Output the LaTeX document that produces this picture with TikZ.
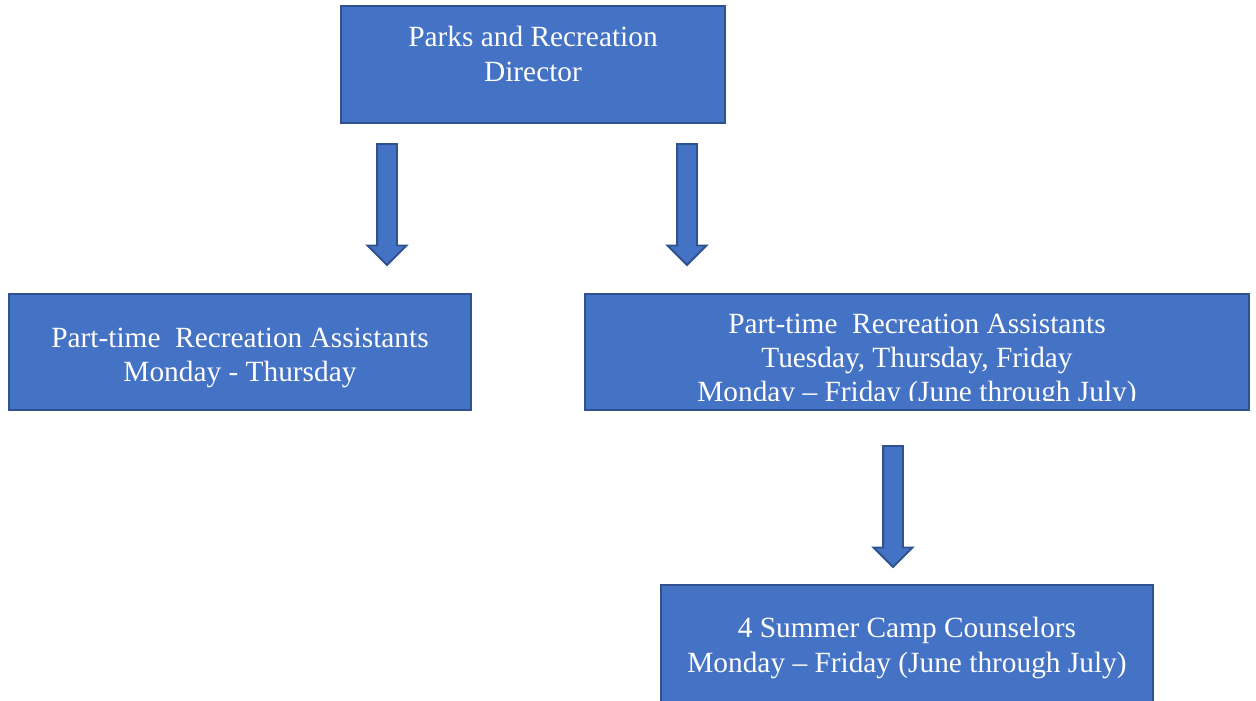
\documentclass[tikz,border=0pt]{standalone}
\usepackage{fontspec}
\setmainfont{Liberation Serif}
\definecolor{officeblue}{RGB}{68,114,196}
\definecolor{edgeblue}{RGB}{47,82,143}
\usetikzlibrary{shapes.arrows, positioning}

\begin{document}
\begin{tikzpicture}[x=0.02cm, y=-0.02cm,
    box/.style={rectangle, draw=edgeblue, fill=officeblue, line width=1.1pt, inner sep=0pt},
    boxtext/.style={text=white, align=center, inner sep=0pt, font=\fontsize{16.7}{19.6}\selectfont},
    downarrow/.style={single arrow, shape border rotate=270, draw=edgeblue, fill=officeblue, line width=1.1pt,
        inner sep=0.18cm, single arrow head extend=0.19cm, minimum height=2.42cm}]
    \clip (0,0) rectangle (1256,700);
    % Director box
    \node[box, minimum width=7.68cm, minimum height=2.34cm] (director) at (533,64.5) {};
    \node[boxtext] (directortext) at ([yshift=0.21cm]director.center) {Parks and Recreation\\Director};
    % Assistants, left
    \node[box, minimum width=9.24cm, minimum height=2.32cm] (pta1) at (240,352) {};
    \node[boxtext] (pta1text) at ([yshift=-0.12cm]pta1.center) {Part-time\ \ Recreation Assistants\\Monday - Thursday};
    % Assistants, right (last line cut off by the box)
    \node[box, minimum width=13.28cm, minimum height=2.32cm] (pta2) at (917,352) {};
    \begin{scope}
        \clip ([yshift=0.2cm]pta2.south west) rectangle (pta2.north east);
        \node[boxtext] (pta2text) at ([yshift=-0.18cm]pta2.center) {Part-time\ \ Recreation Assistants\\Tuesday, Thursday, Friday\\Monday -- Friday (June through July)};
    \end{scope}
    % Summer camp box
    \node[box, minimum width=9.84cm, minimum height=2.4cm] (camp) at (907,645) {};
    \node[boxtext] (camptext) at ([yshift=-0.06cm]camp.center) {4 Summer Camp Counselors\\Monday -- Friday (June through July)};
    % Block arrows
    \node[downarrow] (arrowleft) at (387,199.5) {};
    \node[downarrow] (arrowright) at (687,199.5) {};
    \node[downarrow] (arrowcamp) at (893,501.5) {};
\end{tikzpicture}
\end{document}
